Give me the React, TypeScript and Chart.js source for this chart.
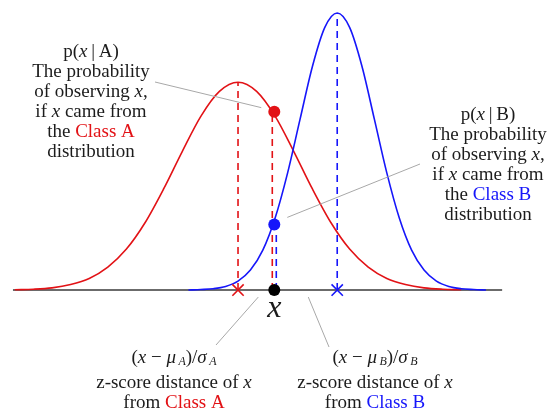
import React, { useEffect, useRef } from "react";
import { Chart, registerables } from "chart.js";

Chart.register(...registerables);

// Class A (red) density curve
const redX = [-3.6, -3.3, -3.0, -2.7, -2.4, -2.1, -1.8, -1.5, -1.2, -0.9, -0.6, -0.3, 0, 0.3, 0.6, 0.9, 1.2, 1.5, 1.8, 2.1, 2.4, 2.7, 3.0, 3.3, 3.6];
const redY = [0.001, 0.003, 0.008, 0.020, 0.042, 0.083, 0.148, 0.243, 0.365, 0.500, 0.627, 0.717, 0.750, 0.717, 0.627, 0.500, 0.365, 0.243, 0.148, 0.083, 0.042, 0.020, 0.008, 0.003, 0.001];
// Class B (blue) density curve
const blueX = [-0.8, -0.6, -0.4, -0.2, 0, 0.2, 0.4, 0.6, 0.8, 1.0, 1.2, 1.4, 1.6, 1.8, 2.0, 2.2, 2.4, 2.6, 2.8, 3.0, 3.2, 3.4, 3.6, 3.8, 4.0];
const blueY = [0, 0.002, 0.005, 0.013, 0.032, 0.072, 0.144, 0.261, 0.423, 0.616, 0.807, 0.948, 1.0, 0.948, 0.807, 0.616, 0.423, 0.261, 0.144, 0.072, 0.032, 0.013, 0.005, 0.002, 0];
// Means, peaks, observation
const means = [0, 1.6];
const peaks = [0.75, 1.0];
const xObs = 0.585;
const likelihoods = [0.644, 0.237];
// Horizontal axis line extent
const baselineX = [-3.63, 4.26];

const RED = "rgb(226,18,22)";
const BLUE = "rgb(22,22,250)";
const TEXT = "#1c1c1c";
const GRAY = "#a8a8a8";
const SERIF = '"Liberation Serif", "Times New Roman", serif';

type Seg = { t: string; f?: string; c?: string; dy?: number };

function drawRich(ctx: CanvasRenderingContext2D, segs: Seg[], cx: number, y: number, baseFont: string) {
  let w = 0;
  const widths: number[] = [];
  for (const s of segs) {
    ctx.font = s.f || baseFont;
    const mw = ctx.measureText(s.t).width;
    widths.push(mw);
    w += mw;
  }
  let x = cx - w / 2;
  segs.forEach((s, i) => {
    ctx.font = s.f || baseFont;
    ctx.fillStyle = s.c || TEXT;
    ctx.fillText(s.t, x, y + (s.dy || 0));
    x += widths[i];
  });
}

const overlayPlugin = {
  id: "overlay",
  beforeDatasetsDraw(chart: any) {
    const ctx = chart.ctx as CanvasRenderingContext2D;
    const xs = chart.scales.x;
    const ys = chart.scales.y;
    ctx.save();
    ctx.lineWidth = 1.6;
    ctx.setLineDash([7, 5]);
    const vline = (xv: number, y0: number, y1: number, color: string, off: number) => {
      const px = xs.getPixelForValue(xv) + off;
      ctx.strokeStyle = color;
      ctx.beginPath();
      ctx.moveTo(px, ys.getPixelForValue(y0));
      ctx.lineTo(px, ys.getPixelForValue(y1));
      ctx.stroke();
    };
    vline(means[0], 0, peaks[0], RED, 0);
    vline(means[1], 0, peaks[1], BLUE, 0);
    vline(xObs, 0, likelihoods[0], RED, -2);
    vline(xObs, 0, likelihoods[1], BLUE, 2);
    ctx.restore();
  },
  afterDraw(chart: any) {
    const ctx = chart.ctx as CanvasRenderingContext2D;
    const xs = chart.scales.x;
    const ys = chart.scales.y;
    const ox = xs.getPixelForValue(xObs);
    const pAy = ys.getPixelForValue(likelihoods[0]);
    const pBy = ys.getPixelForValue(likelihoods[1]);
    const by = ys.getPixelForValue(0);
    ctx.save();
    // leader lines
    ctx.strokeStyle = GRAY;
    ctx.lineWidth = 1;
    const seg = (x1: number, y1: number, x2: number, y2: number) => {
      ctx.beginPath();
      ctx.moveTo(x1, y1);
      ctx.lineTo(x2, y2);
      ctx.stroke();
    };
    seg(155, 82, ox - 13, pAy - 4);
    seg(420, 164, ox + 13, pBy - 7);
    seg(ox - 16, by + 7, 216, 345);
    seg(ox + 34, by + 7, 329, 347);

    ctx.textAlign = "left";
    ctx.textBaseline = "middle";
    const f = `19px ${SERIF}`;
    const fi = `italic 19px ${SERIF}`;
    const blocks: [string, string, number, number][] = [
      ["A", RED, 91, 52],
      ["B", BLUE, 488, 115],
    ];
    for (const [lab, col, cx, y0] of blocks) {
      drawRich(ctx, [{ t: "p(" }, { t: "x", f: fi }, { t: "\u2009|\u2009" + lab + ")" }], cx, y0, f);
      drawRich(ctx, [{ t: "The probability" }], cx, y0 + 20, f);
      drawRich(ctx, [{ t: "of observing " }, { t: "x", f: fi }, { t: "," }], cx, y0 + 40, f);
      drawRich(ctx, [{ t: "if " }, { t: "x", f: fi }, { t: " came from" }], cx, y0 + 60, f);
      drawRich(ctx, [{ t: "the " }, { t: "Class " + lab, c: col }], cx, y0 + 80, f);
      drawRich(ctx, [{ t: "distribution" }], cx, y0 + 100, f);
    }
    // observation label
    drawRich(ctx, [{ t: "x", f: `italic 32px ${SERIF}` }], ox, 309, f);
    // z-score labels
    const fs = `italic 12px ${SERIF}`;
    const zs: [string, string, number][] = [
      ["A", RED, 174],
      ["B", BLUE, 375],
    ];
    for (const [lab, col, cx] of zs) {
      drawRich(
        ctx,
        [
          { t: "(" },
          { t: "x", f: fi },
          { t: " \u2212 " },
          { t: "\u03bc", f: fi },
          { t: "\u2009" + lab, f: fs, dy: 4 },
          { t: ")/" },
          { t: "\u03c3", f: fi },
          { t: "\u2009" + lab, f: fs, dy: 4 },
        ],
        cx,
        358,
        f
      );
      drawRich(ctx, [{ t: "z-score distance of " }, { t: "x", f: fi }], cx, 383, f);
      drawRich(ctx, [{ t: "from " }, { t: "Class " + lab, c: col }], cx, 403, f);
    }
    ctx.restore();
  },
};

export default function App() {
  const ref = useRef<HTMLCanvasElement>(null);
  useEffect(() => {
    document.body.style.margin = "0";
    const canvas = ref.current;
    if (!canvas) return;
    const chart = new Chart(canvas, {
      type: "scatter",
      data: {
        datasets: [
          {
            label: "axis",
            data: baselineX.map((x) => ({ x, y: 0 })),
            showLine: true,
            borderColor: "#3a3a3a",
            borderWidth: 1.6,
            pointRadius: 0,
            order: 10,
          },
          {
            label: "Class A",
            data: redX.map((x, i) => ({ x, y: redY[i] })),
            showLine: true,
            borderColor: RED,
            borderWidth: 1.6,
            pointRadius: 0,
            cubicInterpolationMode: "monotone",
            order: 9,
          },
          {
            label: "Class B",
            data: blueX.map((x, i) => ({ x, y: blueY[i] })),
            showLine: true,
            borderColor: BLUE,
            borderWidth: 1.6,
            pointRadius: 0,
            cubicInterpolationMode: "monotone",
            order: 8,
          },
          {
            label: "mean A",
            data: [{ x: means[0], y: 0 }],
            pointStyle: "crossRot",
            pointRadius: 8,
            borderColor: RED,
            borderWidth: 1.6,
            order: 2,
          },
          {
            label: "mean B",
            data: [{ x: means[1], y: 0 }],
            pointStyle: "crossRot",
            pointRadius: 8,
            borderColor: BLUE,
            borderWidth: 1.6,
            order: 2,
          },
          {
            label: "p(x|A)",
            data: [{ x: xObs, y: likelihoods[0] }],
            pointRadius: 6,
            backgroundColor: RED,
            borderColor: RED,
            borderWidth: 0,
            order: 1,
          },
          {
            label: "p(x|B)",
            data: [{ x: xObs, y: likelihoods[1] }],
            pointRadius: 6,
            backgroundColor: BLUE,
            borderColor: BLUE,
            borderWidth: 0,
            order: 1,
          },
          {
            label: "x",
            data: [{ x: xObs, y: 0 }],
            pointRadius: 6,
            backgroundColor: "#000",
            borderColor: "#000",
            borderWidth: 0,
            order: 0,
          },
        ],
      },
      options: {
        animation: false,
        responsive: false,
        layout: { padding: 0, autoPadding: false },
        plugins: { legend: { display: false }, tooltip: { enabled: false }, title: { display: false } },
        scales: {
          x: { type: "linear", min: -3.839, max: 5.032, display: false },
          y: { type: "linear", min: -0.451, max: 1.047, display: false },
        },
      },
      plugins: [overlayPlugin],
    });
    return () => chart.destroy();
  }, []);
  return (
    <div style={{ width: 550, height: 415, background: "#fff" }}>
      <canvas ref={ref} width={550} height={415} />
    </div>
  );
}
